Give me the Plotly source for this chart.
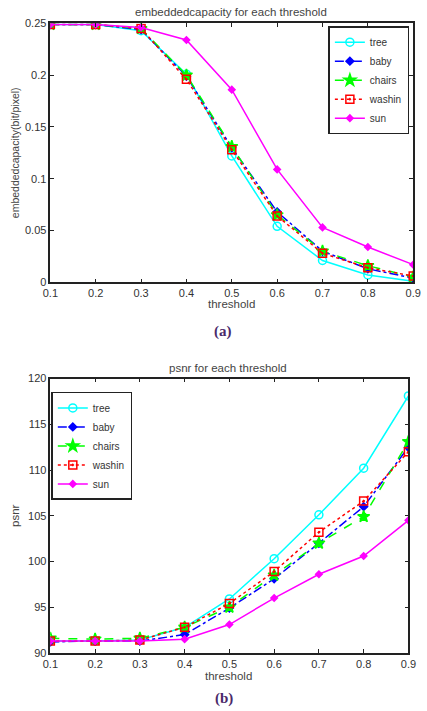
import plotly.graph_objects as go

thresholds = [0.1, 0.2, 0.3, 0.4, 0.5, 0.6, 0.7, 0.8, 0.9]
series_names = ["tree", "baby", "chairs", "washin", "sun"]

cap_tree   = [0.249, 0.249, 0.243, 0.201, 0.122, 0.054, 0.021, 0.007, 0.001]
cap_baby   = [0.249, 0.249, 0.244, 0.199, 0.130, 0.068, 0.030, 0.013, 0.004]
cap_chairs = [0.249, 0.249, 0.245, 0.200, 0.131, 0.065, 0.030, 0.016, 0.005]
cap_washin = [0.249, 0.249, 0.245, 0.196, 0.128, 0.064, 0.028, 0.014, 0.006]
cap_sun    = [0.249, 0.249, 0.246, 0.234, 0.186, 0.109, 0.053, 0.034, 0.017]

psnr_tree   = [91.3, 91.3, 91.4, 92.8, 95.9, 100.3, 105.1, 110.2, 118.1]
psnr_baby   = [91.2, 91.3, 91.3, 92.0, 94.9, 98.1, 102.0, 106.0, 112.5]
psnr_chairs = [91.6, 91.5, 91.6, 92.8, 95.0, 98.5, 102.0, 104.9, 113.1]
psnr_washin = [91.3, 91.3, 91.4, 92.8, 95.4, 98.9, 103.2, 106.6, 112.0]
psnr_sun    = [91.3, 91.3, 91.3, 91.5, 93.1, 96.0, 98.6, 100.6, 104.5]

cap_data = [cap_tree, cap_baby, cap_chairs, cap_washin, cap_sun]
psnr_data = [psnr_tree, psnr_baby, psnr_chairs, psnr_washin, psnr_sun]

styles = [
    dict(color="#00FFFF", dash="solid", symbol="circle-open", size=8),
    dict(color="#0000FF", dash="dashdot", symbol="diamond", size=6),
    dict(color="#00FF00", dash="dash", symbol="star", size=9),
    dict(color="#FF0000", dash="dot", symbol="square-open-dot", size=8),
    dict(color="#FF00FF", dash="solid", symbol="diamond", size=5),
]

fig = go.Figure()
for name, ys, st in zip(series_names, cap_data, styles):
    fig.add_trace(go.Scatter(
        x=thresholds, y=ys, name=name, mode="lines+markers",
        line=dict(color=st["color"], dash=st["dash"], width=1.5),
        marker=dict(symbol=st["symbol"], size=st["size"], color=st["color"],
                    line=dict(color=st["color"], width=1.5)),
        xaxis="x", yaxis="y", legend="legend"))
for name, ys, st in zip(series_names, psnr_data, styles):
    fig.add_trace(go.Scatter(
        x=thresholds, y=ys, name=name, mode="lines+markers",
        line=dict(color=st["color"], dash=st["dash"], width=1.5),
        marker=dict(symbol=st["symbol"], size=st["size"], color=st["color"],
                    line=dict(color=st["color"], width=1.5)),
        xaxis="x2", yaxis="y2", legend="legend2"))

W, H = 427, 711
def px(x): return x / W
def py(y): return 1 - y / H

axis_common = dict(showgrid=False, zeroline=False, showline=True, linecolor="#222",
                   linewidth=1.5, mirror="allticks", ticks="inside", ticklen=4,
                   tickcolor="#222", tickfont=dict(family="Liberation Sans, Arial", size=11, color="#333"))

xt = ["0.1", "0.2", "0.3", "0.4", "0.5", "0.6", "0.7", "0.8", "0.9"]
legend_font = dict(family="Liberation Sans, Arial", size=10, color="#333")
fig.update_layout(
    width=W, height=H, margin=dict(l=0, r=0, t=0, b=0),
    paper_bgcolor="white", plot_bgcolor="white", showlegend=True,
    xaxis=dict(domain=[px(44), px(421)], range=[0.1, 0.9], tickvals=thresholds,
               ticktext=xt, anchor="y", **axis_common),
    yaxis=dict(domain=[py(281), py(17.7)], range=[0, 0.25],
               tickvals=[0, 0.05, 0.1, 0.15, 0.2, 0.25],
               ticktext=["0", "0.05", "0.1", "0.15", "0.2", "0.25"],
               anchor="x", **axis_common),
    xaxis2=dict(domain=[px(44), px(416)], range=[0.1, 0.9], tickvals=thresholds,
                ticktext=xt, anchor="y2", **axis_common),
    yaxis2=dict(domain=[py(658), py(379)], range=[90, 120],
                tickvals=[90, 95, 100, 105, 110, 115, 120],
                anchor="x2", **axis_common),
    legend=dict(x=px(417), y=py(20.5), xanchor="right", yanchor="top",
                bgcolor="white", bordercolor="#222", borderwidth=1.5,
                font=legend_font, tracegroupgap=0, itemwidth=30),
    legend2=dict(x=px(45), y=py(392.5), xanchor="left", yanchor="top",
                 bgcolor="white", bordercolor="#222", borderwidth=1.5,
                 font=legend_font, tracegroupgap=0, itemwidth=30),
)

ttl = dict(family="Liberation Sans, Arial", size=11.5, color="#444")
txt = dict(family="Liberation Sans, Arial", size=11.5, color="#444")
annotations = [
    dict(text="embeddedcapacity for each threshold", x=px(232), y=py(6), font=ttl),
    dict(text="threshold", x=px(232), y=py(303), font=txt),
    dict(text="embeddedcapacity(bit/pixel)", x=px(8), y=py(149), font=dict(family="Liberation Sans, Arial", size=10.5, color="#444"), textangle=-90),
    dict(text="<b>(a)</b>", x=px(223), y=py(331),
         font=dict(family="Liberation Serif, Times New Roman", size=15, color="#4a2a6a")),
    dict(text="psnr for each threshold", x=px(229), y=py(368), font=ttl),
    dict(text="threshold", x=px(229), y=py(682), font=txt),
    dict(text="psnr", x=px(8), y=py(518), font=txt, textangle=-90),
    dict(text="<b>(b)</b>", x=px(224), y=py(704),
         font=dict(family="Liberation Serif, Times New Roman", size=15, color="#4a2a6a")),
]
for a in annotations:
    fig.add_annotation(xref="paper", yref="paper", showarrow=False,
                       xanchor="center", yanchor="middle", **a)

fig.write_html("out.html")
